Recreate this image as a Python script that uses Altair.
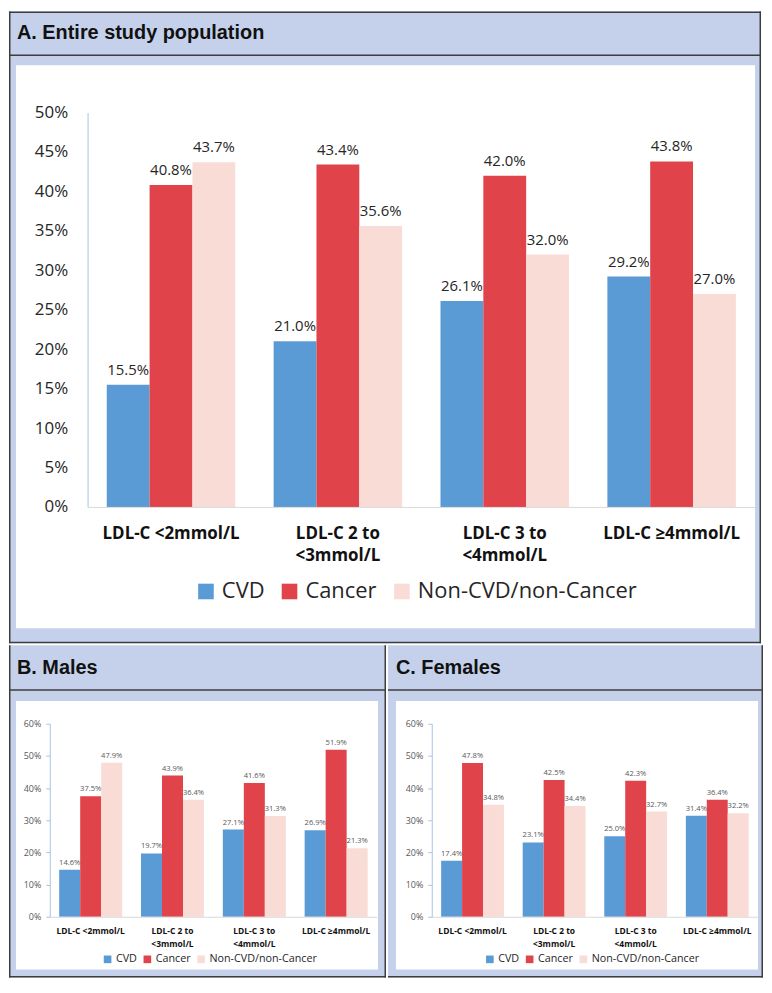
import altair as alt
import pandas as pd

# ---------------- data ----------------
groups = ["LDL-C <2mmol/L", "LDL-C 2 to\n<3mmol/L", "LDL-C 3 to\n<4mmol/L", "LDL-C ≥4mmol/L"]
series = ["CVD", "Cancer", "Non-CVD/non-Cancer"]
series_colors = ["#5b9bd5", "#e0434a", "#f9dcd5"]

entire_cvd = [15.5, 21.0, 26.1, 29.2]
entire_cancer = [40.8, 43.4, 42.0, 43.8]
entire_other = [43.7, 35.6, 32.0, 27.0]

males_cvd = [14.6, 19.7, 27.1, 26.9]
males_cancer = [37.5, 43.9, 41.6, 51.9]
males_other = [47.9, 36.4, 31.3, 21.3]

females_cvd = [17.4, 23.1, 25.0, 31.4]
females_cancer = [47.8, 42.5, 42.3, 36.4]
females_other = [34.8, 34.4, 32.7, 32.2]

ticks_entire = [0, 0.05, 0.10, 0.15, 0.20, 0.25, 0.30, 0.35, 0.40, 0.45, 0.50]
ticks_sex = [0, 0.10, 0.20, 0.30, 0.40, 0.50, 0.60]

titles = ["A. Entire study population", "B. Males", "C. Females"]


def long_table(cvd, cancer, other):
    rows = []
    for name, vals in zip(series, [cvd, cancer, other]):
        for g, v in zip(groups, vals):
            rows.append({"group": g, "series": name, "value": v / 100})
    return pd.DataFrame(rows)


FRAME = "#c5d1eb"
LINE = "#3d3d3d"
AXIS_BLUE = "#a8c4e4"
PAD_INNER = 0.23
PAD_OUTER = 0.115
one = pd.DataFrame({"k": [0]})


def box(x, x2, y, y2, fill):
    return alt.Chart(one).mark_rect(fill=fill, strokeWidth=0).encode(
        x=alt.value(x), x2=alt.value(x2), y=alt.value(y), y2=alt.value(y2))


def hline(x, x2, y):
    return alt.Chart(one).mark_rule(color=LINE, strokeWidth=1.5).encode(
        x=alt.value(x), x2=alt.value(x2), y=alt.value(y))


def vline(x, y, y2):
    return alt.Chart(one).mark_rule(color=LINE, strokeWidth=1.5).encode(
        x=alt.value(x), y=alt.value(y), y2=alt.value(y2))


def heading(text, x, y):
    return alt.Chart(one).mark_text(
        text=text, font="Liberation Sans", fontWeight="bold", fontSize=20,
        align="left", baseline="alphabetic", color="#111111",
    ).encode(x=alt.value(x), y=alt.value(y))


def panel(df, W, H, head_y, white, xr, yr, ymax, yticks, st, leg_xy, title, lines):
    base = alt.Chart(df)
    # width of one category band (for the within-group offset scale)
    band = (xr[1] - xr[0]) / len(groups) * (1 - PAD_INNER)
    y_axis = alt.Axis(
        orient="left", offset=-xr[0], values=yticks, format=".0%", grid=False,
        ticks=st["ticks"], tickSize=4, tickColor=AXIS_BLUE,
        domainColor=AXIS_BLUE, domainWidth=1,
        labelFont="Open Sans", labelFontSize=st["ytick"], labelColor=st["ytick_color"],
        labelPadding=st["ypad"], title=None, zindex=1,
    )
    x_axis = alt.Axis(
        orient="bottom", offset=yr[0] - H, labelExpr="split(datum.label, '\\n')",
        labelAngle=0, ticks=False, domainColor="#d9d9d9", domainWidth=1,
        labelFont="Open Sans", labelFontWeight="bold", labelFontSize=st["xlab"],
        labelLineHeight=st["xline"], labelPadding=st["xpad"], labelColor="#111111",
        labelOverlap=False, labelLimit=400, title=None, zindex=1,
    )
    legend = alt.Legend(
        orient="none", legendX=leg_xy[0], legendY=leg_xy[1], direction="horizontal",
        columns=3, title=None, symbolType="square", symbolSize=st["sym"],
        symbolStrokeWidth=0, labelFont="Open Sans", labelFontSize=st["leg"],
        labelColor="#262626", labelOffset=st["legoff"], columnPadding=st["legcol"],
        labelLimit=600, padding=0,
    )
    x_enc = alt.X("group:N", sort=groups,
                  scale=alt.Scale(range=xr, paddingInner=PAD_INNER, paddingOuter=PAD_OUTER),
                  axis=x_axis)
    off_enc = alt.XOffset("series:N", sort=series,
                          scale=alt.Scale(range=[0, band], paddingInner=0, paddingOuter=0))
    bars = base.mark_bar().encode(
        x=x_enc,
        xOffset=off_enc,
        y=alt.Y("value:Q", scale=alt.Scale(domain=[0, ymax], range=yr, nice=False),
                axis=y_axis),
        color=alt.Color("series:N", sort=series,
                        scale=alt.Scale(domain=series, range=series_colors),
                        legend=legend),
    )
    labels = base.mark_text(
        font="Open Sans", fontSize=st["val"], dy=st["dy"], baseline="alphabetic",
        align="center", color=st["val_color"],
    ).encode(
        x=alt.X("group:N", sort=groups),
        xOffset=alt.XOffset("series:N", sort=series),
        y=alt.Y("value:Q"),
        text=alt.Text("value:Q", format=".1%"),
    )
    layers = [box(0, W, 0, H, FRAME), box(white[0], white[1], white[2], white[3], "#ffffff"),
              bars, labels, heading(title, 8, st["head_base"]), hline(0, W, head_y)] + lines
    return alt.layer(*layers).properties(width=W, height=H)


style_a = dict(ticks=False, ytick=17, ytick_color="#262626", ypad=20,
               xlab=17, xline=22, xpad=19, sym=246, leg=22, legoff=5, legcol=14,
               val=15, dy=-10, val_color="#262626", head_base=27.5)
style_s = dict(ticks=True, ytick=9, ytick_color="#595959", ypad=5,
               xlab=8.5, xline=12.5, xpad=10, sym=59, leg=10.8, legoff=3, legcol=5,
               val=7.6, dy=-5, val_color="#595959", head_base=28.5)

WA, WB, WC = 756, 379, 377
HA, HB = 635, 334

panel_a = panel(
    long_table(entire_cvd, entire_cancer, entire_other), WA, HA, 44,
    (7, 750, 54, 620), [79, 750], [498, 101.5], 0.5, ticks_entire, style_a,
    (187, 572), titles[0],
    [hline(0, WA, 0.75), hline(0, WA, HA - 0.75), vline(0.75, 0, HA), vline(WA - 0.75, 0, HA)],
)
panel_b = panel(
    long_table(males_cvd, males_cancer, males_other), WB, HB, 45,
    (7, 371, 56, 326), [41, 370], [273, 79], 0.6, ticks_sex, style_s,
    (93.7, 310), titles[1],
    [vline(0.75, 0, HB), vline(WB - 0.75, 0, HB), hline(0, WB, HB - 0.75)],
)
panel_c = panel(
    long_table(females_cvd, females_cancer, females_other), WC, HB, 45,
    (8, 372, 56, 326), [44, 372], [273, 79], 0.6, ticks_sex, style_s,
    (97, 310), titles[2],
    [vline(WC - 0.75, 0, HB), hline(0, WC, HB - 0.75)],
)

bottom = alt.hconcat(panel_b, panel_c, spacing=0).resolve_scale(
    color="independent", xOffset="independent")
chart = (
    alt.vconcat(panel_a, bottom, spacing=0, padding=0)
    .resolve_scale(color="independent", xOffset="independent")
    .configure_view(stroke=None)
)

chart.save("out.html", embed_options={"renderer": "svg", "actions": False})
